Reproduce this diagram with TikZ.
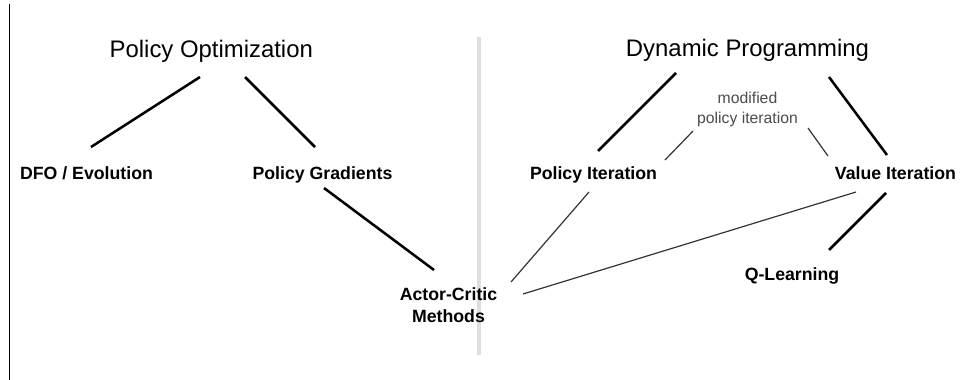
\documentclass[tikz,border=0pt]{standalone}
\usepackage{fontspec}
\setmainfont{Liberation Sans}
\tikzset{
  topic/.style={font=\fontsize{17}{20}\selectfont, inner sep=0pt, anchor=base},
  method/.style={font=\bfseries\fontsize{12.6}{15.3}\selectfont, inner sep=0pt, anchor=base},
  remark/.style={font=\fontsize{11.2}{13.9}\selectfont, text=black!70, inner sep=0pt, align=center, anchor=north},
  heavy/.style={line width=1.8pt},
  light/.style={line width=0.85pt, black!80},
}
\begin{document}
\begin{tikzpicture}[x=0.025cm,y=-0.025cm]
  \useasboundingbox (0,0) rectangle (961,380);
  \fill[white] (0,0) rectangle (961,380);
  % page edge and divider
  \draw[line width=0.7pt] (9.5,4) -- (9.5,380);
  \draw[line width=3.5pt, black!13] (479,37) -- (479,355);
  % policy optimization side
  \node[topic] (po) at (211.3,57.3) {Policy Optimization};
  \node[method] (dfo) at (86.5,180) {DFO / Evolution};
  \node[method] (pg) at (322.5,180) {Policy Gradients};
  \node[method, anchor=north, align=center] (ac) at (448.5,287.5) {Actor-Critic\\Methods};
  % dynamic programming side
  \node[topic] (dp) at (747.5,56.7) {Dynamic Programming};
  \node[remark] (mpi) at (747.5,92) {modified\\policy iteration};
  \node[method] (pi) at (593.5,180) {Policy Iteration};
  \node[method] (vi) at (895.5,180) {Value Iteration};
  \node[method] (ql) at (792,280) {Q-Learning};
  % links
  \draw[heavy] ([shift={(-11.3,19.7)}]po.base) -- ([shift={(4.5,-33)}]dfo.base);
  \draw[heavy] ([shift={(33.7,19.7)}]po.base) -- ([shift={(-7.5,-33)}]pg.base);
  \draw[heavy] ([shift={(1.5,8)}]pg.base) -- ([shift={(-14.5,-17.5)}]ac.north);
  \draw[heavy] ([shift={(-71.5,16.3)}]dp.base) -- ([shift={(4.5,-29)}]pi.base);
  \draw[heavy] ([shift={(81.5,20.3)}]dp.base) -- ([shift={(-8.5,-25)}]vi.base);
  \draw[light] ([shift={(-54.5,39)}]mpi.north) -- ([shift={(71.5,-20)}]pi.base);
  \draw[light] ([shift={(60.5,36)}]mpi.north) -- ([shift={(-67.5,-24)}]vi.base);
  \draw[light] ([shift={(-4.5,12)}]pi.base) -- ([shift={(62.5,-5.5)}]ac.north);
  \draw[light] ([shift={(-39.5,12)}]vi.base) -- ([shift={(74.5,6.5)}]ac.north);
  \draw[heavy] ([shift={(-9.5,13)}]vi.base) -- ([shift={(37,-30)}]ql.base);
\end{tikzpicture}
\end{document}
